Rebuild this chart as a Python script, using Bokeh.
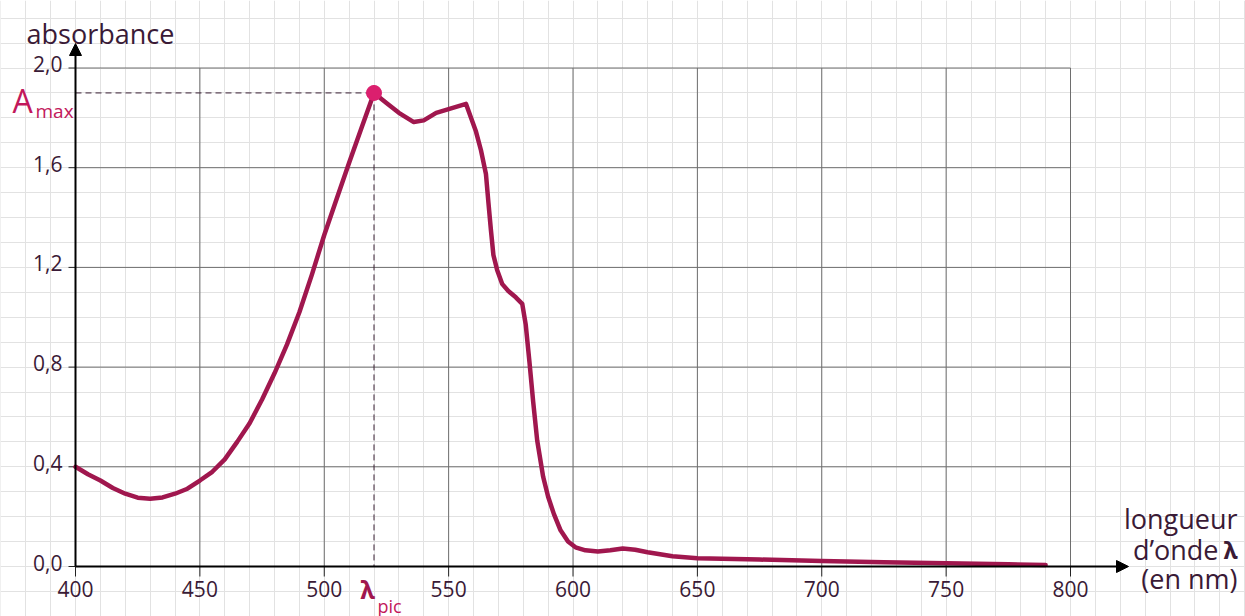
from bokeh.plotting import figure
from bokeh.models import Range1d, Grid, SingleIntervalTicker, Arrow, NormalHead
from bokeh.core.properties import value
from bokeh.embed import file_html
from bokeh.resources import INLINE

# ---------------- data ----------------
wavelength = [400, 405, 410, 415, 420, 425, 430, 435, 440, 445, 450, 455, 460, 465,
              470, 475, 480, 485, 490, 495, 500, 505, 510, 515, 520, 525, 530, 536,
              540, 545, 550, 557, 559, 561, 563, 565, 566, 567, 568, 569.5, 571.5,
              574, 577, 579.6, 581, 582.5, 584, 585.6, 588, 590, 592.3, 595, 598,
              601, 605, 610, 615, 620, 625, 630, 640, 650, 675, 700, 725, 750, 775, 790]
absorbance = [0.40, 0.37, 0.345, 0.315, 0.292, 0.276, 0.272, 0.277, 0.292, 0.312, 0.345,
              0.38, 0.43, 0.50, 0.575, 0.67, 0.775, 0.89, 1.02, 1.17, 1.33, 1.475, 1.62,
              1.76, 1.90, 1.86, 1.82, 1.783, 1.79, 1.82, 1.835, 1.856, 1.80, 1.745, 1.67,
              1.575, 1.46, 1.35, 1.25, 1.19, 1.134, 1.105, 1.08, 1.054, 0.97, 0.82, 0.66,
              0.506, 0.36, 0.28, 0.211, 0.145, 0.10, 0.077, 0.065, 0.060, 0.065, 0.072,
              0.067, 0.057, 0.041, 0.033, 0.028, 0.022, 0.017, 0.013, 0.009, 0.006]
x_ticks = [400, 450, 500, 550, 600, 650, 700, 750, 800]
x_tick_labels = ["400", "450", "500", "550", "600", "650", "700", "750", "800"]
y_ticks = [0.0, 0.4, 0.8, 1.2, 1.6, 2.0]
y_tick_labels = ["0,0", "0,4", "0,8", "1,2", "1,6", "2,0"]
peak_wl = 520
peak_abs = 1.9

# ---------------- layout helpers (page pixels -> data) ----------------
W, H = 1245, 616
MARGIN = 0
X0_PX, PX_PER_NM = 75.0, 2.4875
Y0_PX, PX_PER_A = 566.0, 249.25


def nm(px):
    return 400 + (px - X0_PX) / PX_PER_NM


def ab(py):
    return (Y0_PX - py) / PX_PER_A


TXT = "#3a1a36"
CURVE = "#a0174e"
PINK = "#c2185b"
DOT = "#db1f6e"
FONT = value("Open Sans")

p = figure(width=W, height=H,
           x_range=Range1d(nm(MARGIN), nm(MARGIN + W)),
           y_range=Range1d(ab(MARGIN + H), ab(MARGIN)),
           x_axis_type=None, y_axis_type=None,
           toolbar_location=None, output_backend="svg",
           min_border=0, outline_line_color=None)

# minor background grid (whole page)
p.add_layout(Grid(dimension=0, ticker=SingleIntervalTicker(interval=10),
                  grid_line_color="#e2e2e2", grid_line_width=1))
p.add_layout(Grid(dimension=1, ticker=SingleIntervalTicker(interval=0.1),
                  grid_line_color="#e2e2e2", grid_line_width=1))

# major grid inside plot region
p.segment(x0=x_ticks[1:], y0=y_ticks[0], x1=x_ticks[1:], y1=y_ticks[-1],
          line_color="#6e6e6e", line_width=1)
p.segment(x0=x_ticks[0], y0=y_ticks[1:], x1=x_ticks[-1], y1=y_ticks[1:],
          line_color="#6e6e6e", line_width=1)

# ticks
p.segment(x0=x_ticks, y0=0, x1=x_ticks, y1=ab(Y0_PX + 10), line_color="#222222", line_width=1)
p.segment(x0=x_ticks[0], y0=y_ticks, x1=nm(X0_PX - 7), y1=y_ticks, line_color="#222222", line_width=1)

# axes with arrows
p.add_layout(Arrow(end=NormalHead(size=12, fill_color="black", line_color="black", line_width=1),
                   x_start=x_ticks[0], y_start=0, x_end=nm(1128), y_end=0,
                   line_color="black", line_width=2))
p.add_layout(Arrow(end=NormalHead(size=12, fill_color="black", line_color="black", line_width=1),
                   x_start=x_ticks[0], y_start=0, x_end=x_ticks[0], y_end=ab(43),
                   line_color="black", line_width=2))

# dashed guides to the peak
p.line([x_ticks[0], peak_wl, peak_wl], [peak_abs, peak_abs, 0],
       line_color="#3a2035", line_width=1, line_dash="6 4")

# curve
p.line(wavelength, absorbance, line_color=CURVE, line_width=4.5,
       line_join="round", line_cap="round")
p.scatter([peak_wl], [peak_abs], size=15, fill_color=DOT, line_color=DOT)

# tick labels
p.text(x=[x_ticks[0]] * len(y_ticks), y=y_ticks, text=y_tick_labels,
       x_offset=-13, y_offset=-4, text_align="right", text_baseline="middle",
       text_font=FONT, text_font_size="21px", text_color=TXT)
p.text(x=x_ticks, y=[0] * len(x_ticks), text=x_tick_labels,
       y_offset=14, text_align="center", text_baseline="top",
       text_font=FONT, text_font_size="21px", text_color=TXT)

# axis titles
p.text(x=[nm(26)], y=[ab(33)], text=["absorbance"], text_align="left",
       text_baseline="alphabetic", text_font=FONT, text_font_size="27px", text_color=TXT)
p.text(x=[nm(1237)] * 2, y=[ab(518), ab(578)], text=["longueur", "(en nm)"],
       text_align="right", text_baseline="alphabetic", text_font=FONT,
       text_font_size="27px", text_color=TXT)
p.text(x=[nm(1218)], y=[ab(549)], text=["d\u2019onde"], text_align="right",
       text_baseline="alphabetic", text_font=FONT, text_font_size="27px", text_color=TXT)
p.text(x=[nm(1237)], y=[ab(549)], text=["\u03bb"], text_align="right",
       text_baseline="alphabetic", text_font=value("Noto Sans"), text_font_style="bold",
       text_font_size="24px", text_color=TXT)

# A_max and lambda_pic
p.text(x=[nm(12)], y=[ab(100)], text=["A"], text_align="left", text_baseline="alphabetic",
       text_font=FONT, text_font_size="32px", text_color=PINK)
p.text(x=[nm(35)], y=[ab(110)], text=["max"], text_align="left", text_baseline="alphabetic",
       text_font=FONT, text_font_size="19px", text_color=PINK)
p.text(x=[nm(360)], y=[ab(588)], text=["\u03bb"], text_align="left", text_baseline="alphabetic",
       text_font=value("Noto Sans"), text_font_style="bold", text_font_size="25px", text_color=CURVE)
p.text(x=[nm(377)], y=[ab(605)], text=["pic"], text_align="left", text_baseline="alphabetic",
       text_font=FONT, text_font_size="18px", text_color=PINK)

open("out.html", "w").write(file_html(p, INLINE))
